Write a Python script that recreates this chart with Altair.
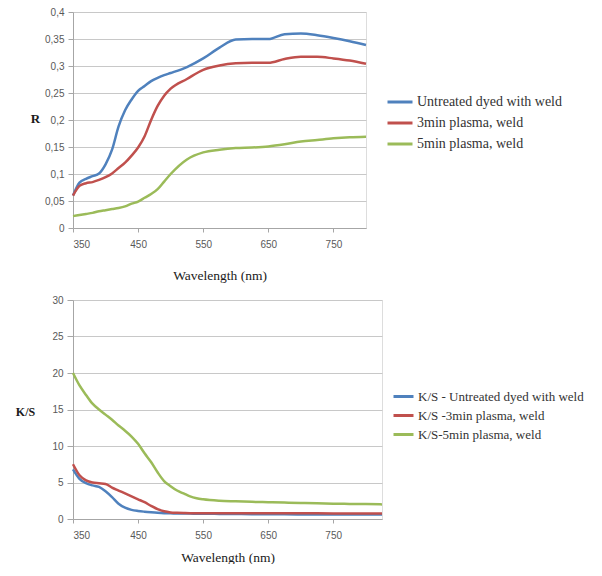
import altair as alt
import pandas as pd

# ---- Reflectance (R) data ----
wl_r = [350, 360, 370, 380, 390, 400, 410, 420, 430, 440, 450, 460, 470, 480, 490, 500,
        525, 550, 575, 600, 625, 650, 675, 700, 725, 750, 775, 800]
r_untreated = [0.060, 0.084, 0.091, 0.096, 0.101, 0.118, 0.145, 0.188, 0.218, 0.238, 0.254, 0.263,
               0.272, 0.278, 0.283, 0.287, 0.298, 0.314, 0.334, 0.349, 0.350, 0.350, 0.359, 0.360,
               0.357, 0.352, 0.346, 0.339]
r_3min = [0.060, 0.078, 0.083, 0.085, 0.089, 0.094, 0.101, 0.111, 0.121, 0.134, 0.149, 0.170,
          0.200, 0.226, 0.245, 0.258, 0.276, 0.293, 0.301, 0.305, 0.306, 0.306, 0.313, 0.317,
          0.317, 0.314, 0.310, 0.304]
r_5min = [0.022, 0.024, 0.026, 0.028, 0.031, 0.033, 0.035, 0.037, 0.040, 0.045, 0.049, 0.056,
          0.063, 0.072, 0.086, 0.100, 0.127, 0.140, 0.145, 0.148, 0.149, 0.151, 0.155, 0.160,
          0.163, 0.166, 0.168, 0.169]

# ---- K/S data ----
wl_ks = [350, 360, 370, 380, 390, 400, 410, 420, 430, 440, 450, 460, 470, 480, 490, 500,
         510, 520, 530, 540, 550, 575, 600, 625, 650, 675, 700, 725, 750, 775, 800, 825]
ks_untreated = [6.8, 5.5, 4.9, 4.6, 4.4, 3.8, 3.0, 2.1, 1.55, 1.25, 1.1, 1.0, 0.92, 0.85, 0.8, 0.78,
                0.76, 0.75, 0.74, 0.73, 0.72, 0.70, 0.68, 0.66, 0.65, 0.64, 0.63, 0.62, 0.61, 0.60,
                0.60, 0.60]
ks_3min = [7.5, 6.0, 5.3, 5.0, 4.9, 4.8, 4.3, 3.9, 3.5, 3.1, 2.7, 2.3, 1.8, 1.35, 1.05, 0.9,
           0.85, 0.82, 0.80, 0.80, 0.80, 0.80, 0.80, 0.80, 0.79, 0.79, 0.78, 0.78, 0.77, 0.77,
           0.76, 0.76]
ks_5min = [20.0, 18.3, 17.0, 15.8, 15.0, 14.3, 13.6, 12.8, 12.1, 11.3, 10.3, 9.0, 7.8, 6.4, 5.2, 4.5,
           3.9, 3.5, 3.1, 2.85, 2.7, 2.5, 2.42, 2.35, 2.3, 2.25, 2.2, 2.15, 2.1, 2.07, 2.04, 2.0]

series_r = ["Untreated dyed with weld", "3min plasma, weld", "5min plasma, weld"]
series_ks = ["K/S - Untreated dyed with weld", "K/S -3min plasma, weld", "K/S-5min plasma, weld"]
colors = ["#4F81BD", "#C0504D", "#9BBB59"]

x_ticks = [350, 450, 550, 650, 750]
r_ticks = [0, 0.05, 0.1, 0.15, 0.2, 0.25, 0.3, 0.35, 0.4]
ks_ticks = [0, 5, 10, 15, 20, 25, 30]

rows = []
for name, vals in zip(series_r, [r_untreated, r_3min, r_5min]):
    for w, v in zip(wl_r, vals):
        rows.append({"wl": w, "val": v, "series": name})
df_r = pd.DataFrame(rows)

rows = []
for name, vals in zip(series_ks, [ks_untreated, ks_3min, ks_5min]):
    for w, v in zip(wl_ks, vals):
        rows.append({"wl": w, "val": v, "series": name})
df_ks = pd.DataFrame(rows)

ax_style = dict(
    gridColor="#C8C8C8", domainColor="#A6A6A6", tickColor="#A6A6A6",
    labelFont="Liberation Sans", labelFontSize=10, labelColor="#595959",
    titleFont="Liberation Serif", titleColor="#1a1a1a",
)

leg_style = dict(
    orient="none", symbolType="stroke", symbolStrokeWidth=3,
    labelFont="Liberation Serif", labelColor="#333333", padding=0, labelOffset=3,
    labelLimit=300, rowPadding=0,
)

top = alt.Chart(df_r).mark_line(strokeWidth=2.5, interpolate="monotone").encode(
    x=alt.X("wl:Q", scale=alt.Scale(domain=[350, 800], nice=False, zero=False),
            axis=alt.Axis(values=x_ticks, grid=False, title="Wavelength (nm)",
                          tickSize=4, labelPadding=7, titlePadding=19, titleFontSize=13.5,
                          titleFontWeight="normal", **ax_style)),
    y=alt.Y("val:Q", scale=alt.Scale(domain=[0, 0.4], nice=False),
            axis=alt.Axis(values=r_ticks, title="R", titleAngle=0, titleX=-38, titleY=106,
                          titleAlign="center", titleBaseline="middle", titleFontWeight="bold",
                          titleFontSize=13, tickSize=5, labelPadding=4,
                          labelExpr="replace(format(datum.value, '~g'), '.', ',')",
                          **ax_style)),
    color=alt.Color("series:N", title=None,
                    scale=alt.Scale(domain=series_r, range=colors),
                    legend=alt.Legend(legendX=313, legendY=76, labelFontSize=14, symbolSize=625,
                                      **leg_style)),
).properties(width=293, height=216)

bottom = alt.Chart(df_ks).mark_line(strokeWidth=2.5, interpolate="monotone").encode(
    x=alt.X("wl:Q", scale=alt.Scale(domain=[350, 825], nice=False, zero=False),
            axis=alt.Axis(values=x_ticks, grid=False, title="Wavelength (nm)",
                          tickSize=4, labelPadding=7, titlePadding=10, titleFontSize=13.5,
                          titleFontWeight="normal", **ax_style)),
    y=alt.Y("val:Q", scale=alt.Scale(domain=[0, 30], nice=False),
            axis=alt.Axis(values=ks_ticks, title="K/S", titleAngle=0, titleX=-48, titleY=111,
                          titleAlign="center", titleBaseline="middle", titleFontWeight="bold",
                          titleFontSize=12, tickSize=6, labelPadding=4,
                          **ax_style)),
    color=alt.Color("series:N", title=None,
                    scale=alt.Scale(domain=series_ks, range=colors),
                    legend=alt.Legend(legendX=319, legendY=85, labelFontSize=13, symbolSize=400,
                                      **leg_style)),
).properties(width=309, height=219)

chart = alt.vconcat(top, bottom, spacing=72, bounds="flush").resolve_scale(
    color="independent", x="independent", y="independent"
).properties(
    padding={"left": 6, "top": -2, "right": 0, "bottom": 0}
).configure_view(stroke=None).configure(background="white")

chart.save("out.html", embed_options={"renderer": "svg", "actions": False})
